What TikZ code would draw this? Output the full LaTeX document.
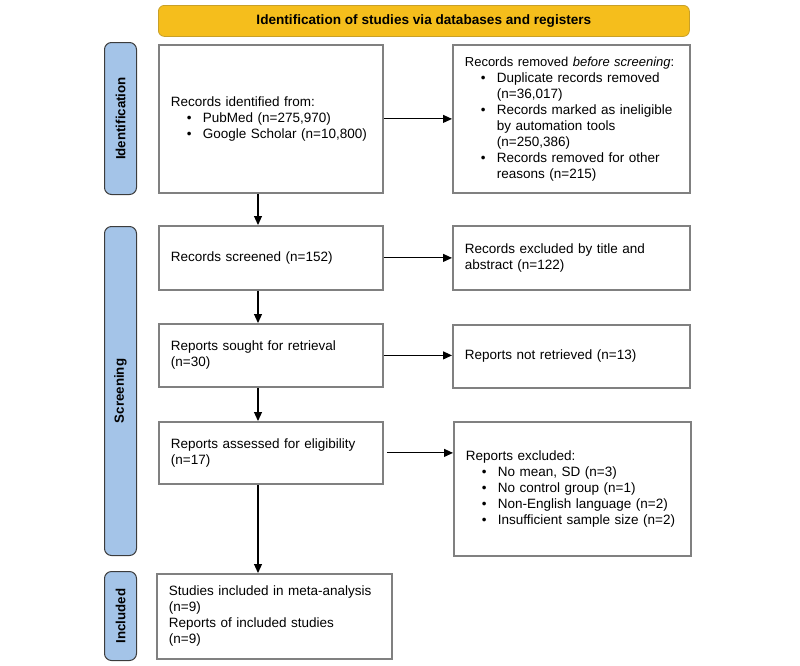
\documentclass[tikz,border=0pt]{standalone}
\usepackage{fontspec}
\setmainfont{Liberation Sans}
\usetikzlibrary{arrows.meta}
\definecolor{banneryellow}{RGB}{245,190,28}
\definecolor{bannerborder}{RGB}{200,160,40}
\definecolor{barblue}{RGB}{164,196,232}
\definecolor{barborder}{RGB}{60,60,60}
\definecolor{boxgray}{RGB}{128,128,128}
\newcommand\bli[1]{\hspace*{16pt}\makebox[16pt][l]{\textbullet}#1}
\newcommand\blc[1]{\hspace*{32pt}#1}
\tikzset{
  every node/.style={font=\fontsize{13.5}{16}\selectfont},
  flowbox/.style={draw=boxgray, line width=1.8pt, fill=white, rectangle, anchor=north west,
    inner xsep=12pt, inner ysep=0pt, align=left},
  sidebar/.style={draw=barborder, line width=1pt, fill=barblue, rounded corners=7pt, anchor=north west,
    minimum width=32pt, inner sep=0pt},
  sidelabel/.style={rotate=90, font=\fontsize{13.3}{15}\selectfont\bfseries},
  flowarrow/.style={-{Triangle[length=9pt,width=8pt]}, line width=1.1pt, black},
}
\begin{document}
\begin{tikzpicture}[x=1pt,y=-1pt]
\useasboundingbox (0,0) rectangle (800,665);
% banner
\node[draw=bannerborder, line width=0.8pt, fill=banneryellow, rounded corners=6pt, anchor=north west,
  minimum width=531pt, minimum height=31pt, inner sep=0pt,
  font=\fontsize{13.6}{16}\selectfont\bfseries] (banner) at (158,5)
  {Identification of studies via databases and registers};
% side bars
\node[sidebar, minimum height=152pt] (barI) at (104,42) {};
\node[sidelabel] (labI) at (barI.center) {Identification};
\node[sidebar, minimum height=329pt] (barS) at (104,226) {};
\node[sidelabel] (labS) at (barS.center) {Screening};
\node[sidebar, minimum height=89pt] (barN) at (104,571) {};
\node[sidelabel] (labN) at (barN.center) {Included};
% boxes
\node[flowbox, minimum width=224pt, minimum height=148pt, text width=200pt] (A) at (158,44)
  {Records identified from:\\
   \bli{PubMed (n=275,970)}\\
   \bli{Google Scholar (n=10,800)}};
\node[flowbox, minimum width=237pt, minimum height=148pt, text width=213pt] (B) at (452,44)
  {\mbox{\fontsize{13}{16}\selectfont Records removed \textit{before screening}:}\\
   \bli{Duplicate records removed}\\
   \blc{(n=36,017)}\\
   \bli{Records marked as ineligible}\\
   \blc{by automation tools}\\
   \blc{(n=250,386)}\\
   \bli{Records removed for other}\\
   \blc{reasons (n=215)}};
\node[flowbox, minimum width=224pt, minimum height=64pt, text width=200pt] (C) at (158,225)
  {Records screened (n=152)};
\node[flowbox, minimum width=237pt, minimum height=64pt, text width=213pt] (D) at (452,225)
  {Records excluded by title and\\abstract (n=122)};
\node[flowbox, minimum width=224pt, minimum height=63pt, text width=200pt] (E) at (158,323)
  {Reports sought for retrieval\\(n=30)};
\node[flowbox, minimum width=237pt, minimum height=63pt, text width=213pt] (F) at (452,324)
  {Reports not retrieved (n=13)};
\node[flowbox, minimum width=224pt, minimum height=62pt, text width=200pt] (G) at (158,421)
  {Reports assessed for eligibility\\(n=17)};
\node[flowbox, minimum width=237pt, minimum height=134pt, text width=213pt] (H) at (453,421)
  {Reports excluded:\\
   \bli{No mean, SD (n=3)}\\
   \bli{No control group (n=1)}\\
   \bli{Non-English language (n=2)}\\
   \bli{Insufficient sample size (n=2)}};
\node[flowbox, minimum width=235pt, minimum height=85pt, text width=211pt] (I) at (156,573)
  {Studies included in meta-analysis\\(n=9)\\Reports of included studies\\(n=9)};
% connectors
\coordinate (vx) at (258,0);
\draw[flowarrow] (A.east) -- (B.west);
\draw[flowarrow] (C.east) -- (D.west);
\draw[flowarrow] (E.east) -- (E.east -| F.west);
\draw[flowarrow] ([xshift=3pt]G.east) -- (G.east -| H.west);
\draw[flowarrow] (A.south -| vx) -- (C.north -| vx);
\draw[flowarrow] (C.south -| vx) -- (E.north -| vx);
\draw[flowarrow] (E.south -| vx) -- (G.north -| vx);
\draw[flowarrow] (G.south -| vx) -- (I.north -| vx);
\end{tikzpicture}
\end{document}
